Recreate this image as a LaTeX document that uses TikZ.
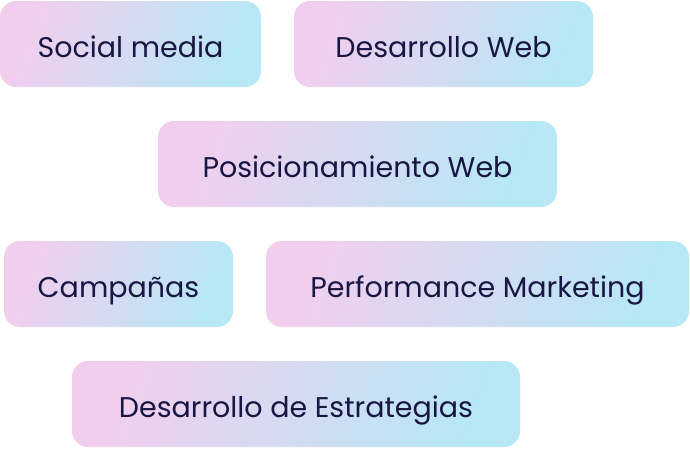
\documentclass[tikz,border=0pt]{standalone}
\usepackage{fontspec}
\setmainfont{Poppins}
\usetikzlibrary{positioning}
\definecolor{pinkglow}{RGB}{242,206,238}
\definecolor{lavender}{RGB}{214,226,250}
\definecolor{skyblue}{RGB}{182,232,246}
\definecolor{inkblue}{RGB}{24,22,66}
\tikzset{
  tag/.style={rounded corners=16pt, inner sep=0pt, minimum height=86pt,
    text height=27pt, text depth=0pt,
    left color=pinkglow, middle color=lavender, right color=skyblue,
    shading angle=70, text=inkblue, font=\fontsize{28.5}{32}\selectfont}
}
\begin{document}
\begin{tikzpicture}[x=1pt,y=-1pt]
\useasboundingbox (0,0) rectangle (690,448);

% first row
\node[tag, minimum width=261pt] (social) at (130.5,44) {Social media};
\node[tag, minimum width=299pt] (devweb) at (443.5,44) {Desarrollo Web};

% second row
\node[tag, minimum width=399pt] (seo) at (357.5,164) {Posicionamiento Web};

% third row
\node[tag, minimum width=229pt] (ads) at (118.5,284) {Campañas};
\node[tag, minimum width=423pt] (perf) at (477.5,284) {Performance Marketing};

% last row
\node[tag, minimum width=448pt] (strat) at (296,404) {Desarrollo de Estrategias};

\end{tikzpicture}
\end{document}
